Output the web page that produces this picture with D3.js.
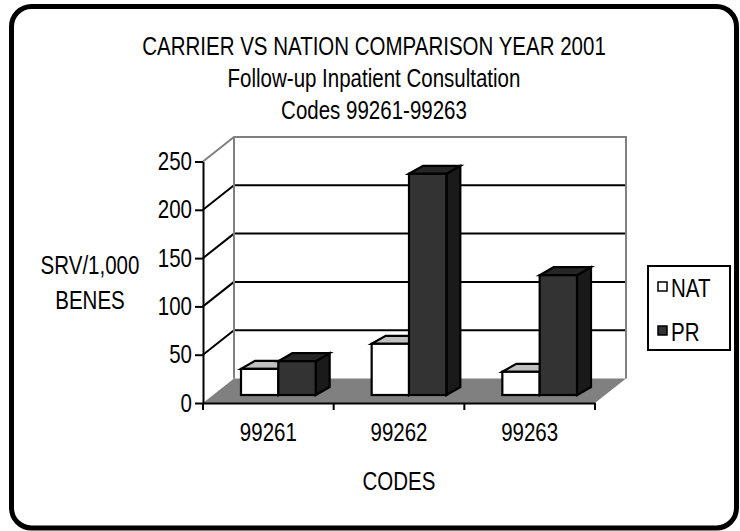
<!DOCTYPE html>
<html>
<head>
<meta charset="utf-8">
<script src="https://cdn.jsdelivr.net/npm/d3@7/dist/d3.min.js"></script>
<style>
  html, body { margin: 0; padding: 0; background: #ffffff; }
  svg { display: block; }
</style>
</head>
<body>
<svg id="chart" width="740" height="531"></svg>
<script>
// ---- data ----
const codes = ["99261", "99262", "99263"];
const seriesNames = ["NAT", "PR"];
const natValues = [27, 53, 24];
const prValues = [35, 229, 124];
const yTicks = [0, 50, 100, 150, 200, 250];
const titleLines = [
  "CARRIER VS NATION COMPARISON YEAR 2001",
  "Follow-up Inpatient Consultation",
  "Codes 99261-99263"
];
const yAxisLines = ["SRV/1,000", "BENES"];
const xAxisTitle = "CODES";

// ---- font: narrow sans if present, otherwise squeeze the regular one ----
function fontAvailable(name) {
  const c = document.createElement("canvas").getContext("2d");
  const s = "CARRIER VS NATION 99261";
  c.font = "40px monospace";
  const w0 = c.measureText(s).width;
  c.font = `40px "${name}", monospace`;
  return Math.abs(c.measureText(s).width - w0) > 0.5;
}
const hasNarrow = fontAvailable("Liberation Sans Narrow");
const FONT = hasNarrow ? '"Liberation Sans Narrow", "Arial Narrow", sans-serif'
                       : '"Liberation Sans", Arial, sans-serif';
const SQUEEZE = hasNarrow ? 1 : 0.82;
function squeeze(sel) {
  if (SQUEEZE === 1) return;
  sel.each(function () {
    const t = d3.select(this);
    const x = +t.attr("x") || 0;
    t.attr("transform", `translate(${x},0) scale(${SQUEEZE},1) translate(${-x},0)`);
  });
}

// ---- geometry ----
const FS = 25;
const depth = { dx: 31, dy: -24.5 };      // front plane -> back wall
const barOff = { dx: 10, dy: -8 };        // front plane -> bar front faces
const barDepth = { dx: 14, dy: -8 };      // thickness of each column

const svg = d3.select("#chart");
svg.style("font-family", FONT);

const x = d3.scaleBand().domain(codes).range([203, 595]).paddingInner(0).paddingOuter(0);
const xs = d3.scaleBand().domain(seriesNames).range([0, x.bandwidth()]).paddingInner(0).paddingOuter(0.75);
const y = d3.scaleLinear().domain([0, 250]).range([403, 161.5]);

const x0 = x.range()[0], x1 = x.range()[1];
const yTop = y(250), yBase = y(0);

// outer frame
svg.append("rect")
  .attr("x", 11.5).attr("y", 6.5).attr("width", 725).attr("height", 521.5)
  .attr("rx", 20).attr("ry", 20)
  .attr("fill", "#ffffff").attr("stroke", "#000000").attr("stroke-width", 5);

// title
const title = svg.append("g");
title.selectAll("text").data(titleLines).join("text")
  .attr("x", 374).attr("y", (d, i) => 55 + i * 32)
  .attr("text-anchor", "middle").attr("font-size", FS).attr("fill", "#000")
  .text(d => d)
  .call(squeeze);

// back wall
const wall = svg.append("g");
wall.append("rect")
  .attr("x", x0 + depth.dx).attr("y", yTop + depth.dy)
  .attr("width", x1 - x0).attr("height", yBase - yTop)
  .attr("fill", "#ffffff").attr("stroke", "none");
// side wall
wall.append("path")
  .attr("d", `M${x0},${yBase}L${x0},${yTop}L${x0 + depth.dx},${yTop + depth.dy}L${x0 + depth.dx},${yBase + depth.dy}Z`)
  .attr("fill", "#ffffff");

// floor
svg.append("path")
  .attr("d", `M${x0},${yBase}L${x1},${yBase}L${x1 + depth.dx},${yBase + depth.dy}L${x0 + depth.dx},${yBase + depth.dy}Z`)
  .attr("fill", "#808080");

// gridlines: back wall + side wall
const gridVals = yTicks.filter(v => v > 0 && v < 250);
const grid = svg.append("g").attr("stroke", "#000").attr("stroke-width", 2).attr("fill", "none");
grid.selectAll("line.back").data(gridVals).join("line").attr("class", "back")
  .attr("x1", x0 + depth.dx).attr("x2", x1 + depth.dx)
  .attr("y1", d => y(d) + depth.dy).attr("y2", d => y(d) + depth.dy);
grid.selectAll("line.side").data(gridVals).join("line").attr("class", "side")
  .attr("x1", x0).attr("x2", x0 + depth.dx)
  .attr("y1", d => y(d)).attr("y2", d => y(d) + depth.dy);

// wall outline (grey)
svg.append("path")
  .attr("d", `M${x0},${yTop}L${x0 + depth.dx},${yTop + depth.dy}L${x1 + depth.dx},${yTop + depth.dy}L${x1 + depth.dx},${yBase + depth.dy}`
    + `M${x0 + depth.dx},${yTop + depth.dy}L${x0 + depth.dx},${yBase + depth.dy}`)
  .attr("fill", "none").attr("stroke", "#808080").attr("stroke-width", 2);

// columns
const rows = codes.map((c, i) => ({ code: c, NAT: natValues[i], PR: prValues[i] }));
const style = {
  NAT: { front: "#ffffff", top: "#c0c0c0", side: "#a0a0a0" },
  PR:  { front: "#333333", top: "#262626", side: "#1a1a1a" }
};
const bars = svg.append("g").attr("stroke", "#000").attr("stroke-width", 2.2).attr("stroke-linejoin", "miter");
rows.forEach(r => {
  seriesNames.forEach(s => {
    const v = r[s];
    const bx = x(r.code) + xs(s) + barOff.dx;
    const bw = xs.bandwidth();
    const yt = y(v) + barOff.dy;
    const yb = y(0) + barOff.dy;
    const g = bars.append("g");
    g.append("path")
      .attr("d", `M${bx + bw},${yt}L${bx + bw + barDepth.dx},${yt + barDepth.dy}L${bx + bw + barDepth.dx},${yb + barDepth.dy}L${bx + bw},${yb}Z`)
      .attr("fill", style[s].side);
    g.append("path")
      .attr("d", `M${bx},${yt}L${bx + barDepth.dx},${yt + barDepth.dy}L${bx + bw + barDepth.dx},${yt + barDepth.dy}L${bx + bw},${yt}Z`)
      .attr("fill", style[s].top);
    g.append("rect")
      .attr("x", bx).attr("y", yt).attr("width", bw).attr("height", yb - yt)
      .attr("fill", style[s].front);
  });
});

// y axis
const yAxis = svg.append("g").attr("transform", `translate(${x0},0)`)
  .call(d3.axisLeft(y).tickValues(yTicks).tickSize(8).tickSizeOuter(0).tickPadding(3));
yAxis.select(".domain").attr("stroke", "#000").attr("stroke-width", 2);
yAxis.selectAll(".tick line").attr("stroke", "#000").attr("stroke-width", 2);
yAxis.selectAll(".tick text").attr("font-size", FS).attr("font-family", FONT).attr("fill", "#000").call(squeeze);

// x axis (labels centred on categories, ticks at category boundaries)
const xAxis = svg.append("g").attr("transform", `translate(0,${yBase})`)
  .call(d3.axisBottom(x).tickSize(0).tickSizeOuter(0).tickPadding(20));
xAxis.select(".domain").attr("stroke", "#000").attr("stroke-width", 2);
xAxis.selectAll(".tick text").attr("font-size", FS).attr("font-family", FONT).attr("fill", "#000").call(squeeze);
xAxis.selectAll("line.bound").data(codes.map(c => x(c)).concat([x1])).join("line")
  .attr("class", "bound")
  .attr("x1", d => d).attr("x2", d => d).attr("y1", 0).attr("y2", 7)
  .attr("stroke", "#000").attr("stroke-width", 2);

// axis titles
svg.append("g").selectAll("text").data(yAxisLines).join("text")
  .attr("x", 90).attr("y", (d, i) => 274 + i * 35)
  .attr("text-anchor", "middle").attr("font-size", FS).attr("fill", "#000")
  .text(d => d).call(squeeze);
svg.append("text")
  .attr("x", (x0 + x1) / 2).attr("y", 490)
  .attr("text-anchor", "middle").attr("font-size", FS).attr("fill", "#000")
  .text(xAxisTitle).call(squeeze);

// legend
const legend = svg.append("g");
legend.append("rect").attr("x", 648).attr("y", 266).attr("width", 82).attr("height", 84)
  .attr("fill", "#fff").attr("stroke", "#000").attr("stroke-width", 2);
const li = legend.selectAll("g.item").data(seriesNames).join("g").attr("class", "item")
  .attr("transform", (d, i) => `translate(0,${i * 44})`);
li.append("rect").attr("x", 658).attr("y", 282).attr("width", 9).attr("height", 9)
  .attr("fill", d => style[d].front).attr("stroke", "#000").attr("stroke-width", 1.5);
li.append("text").attr("x", 671).attr("y", 297).attr("font-size", FS).attr("fill", "#000")
  .text(d => d).call(squeeze);
</script>
</body>
</html>
